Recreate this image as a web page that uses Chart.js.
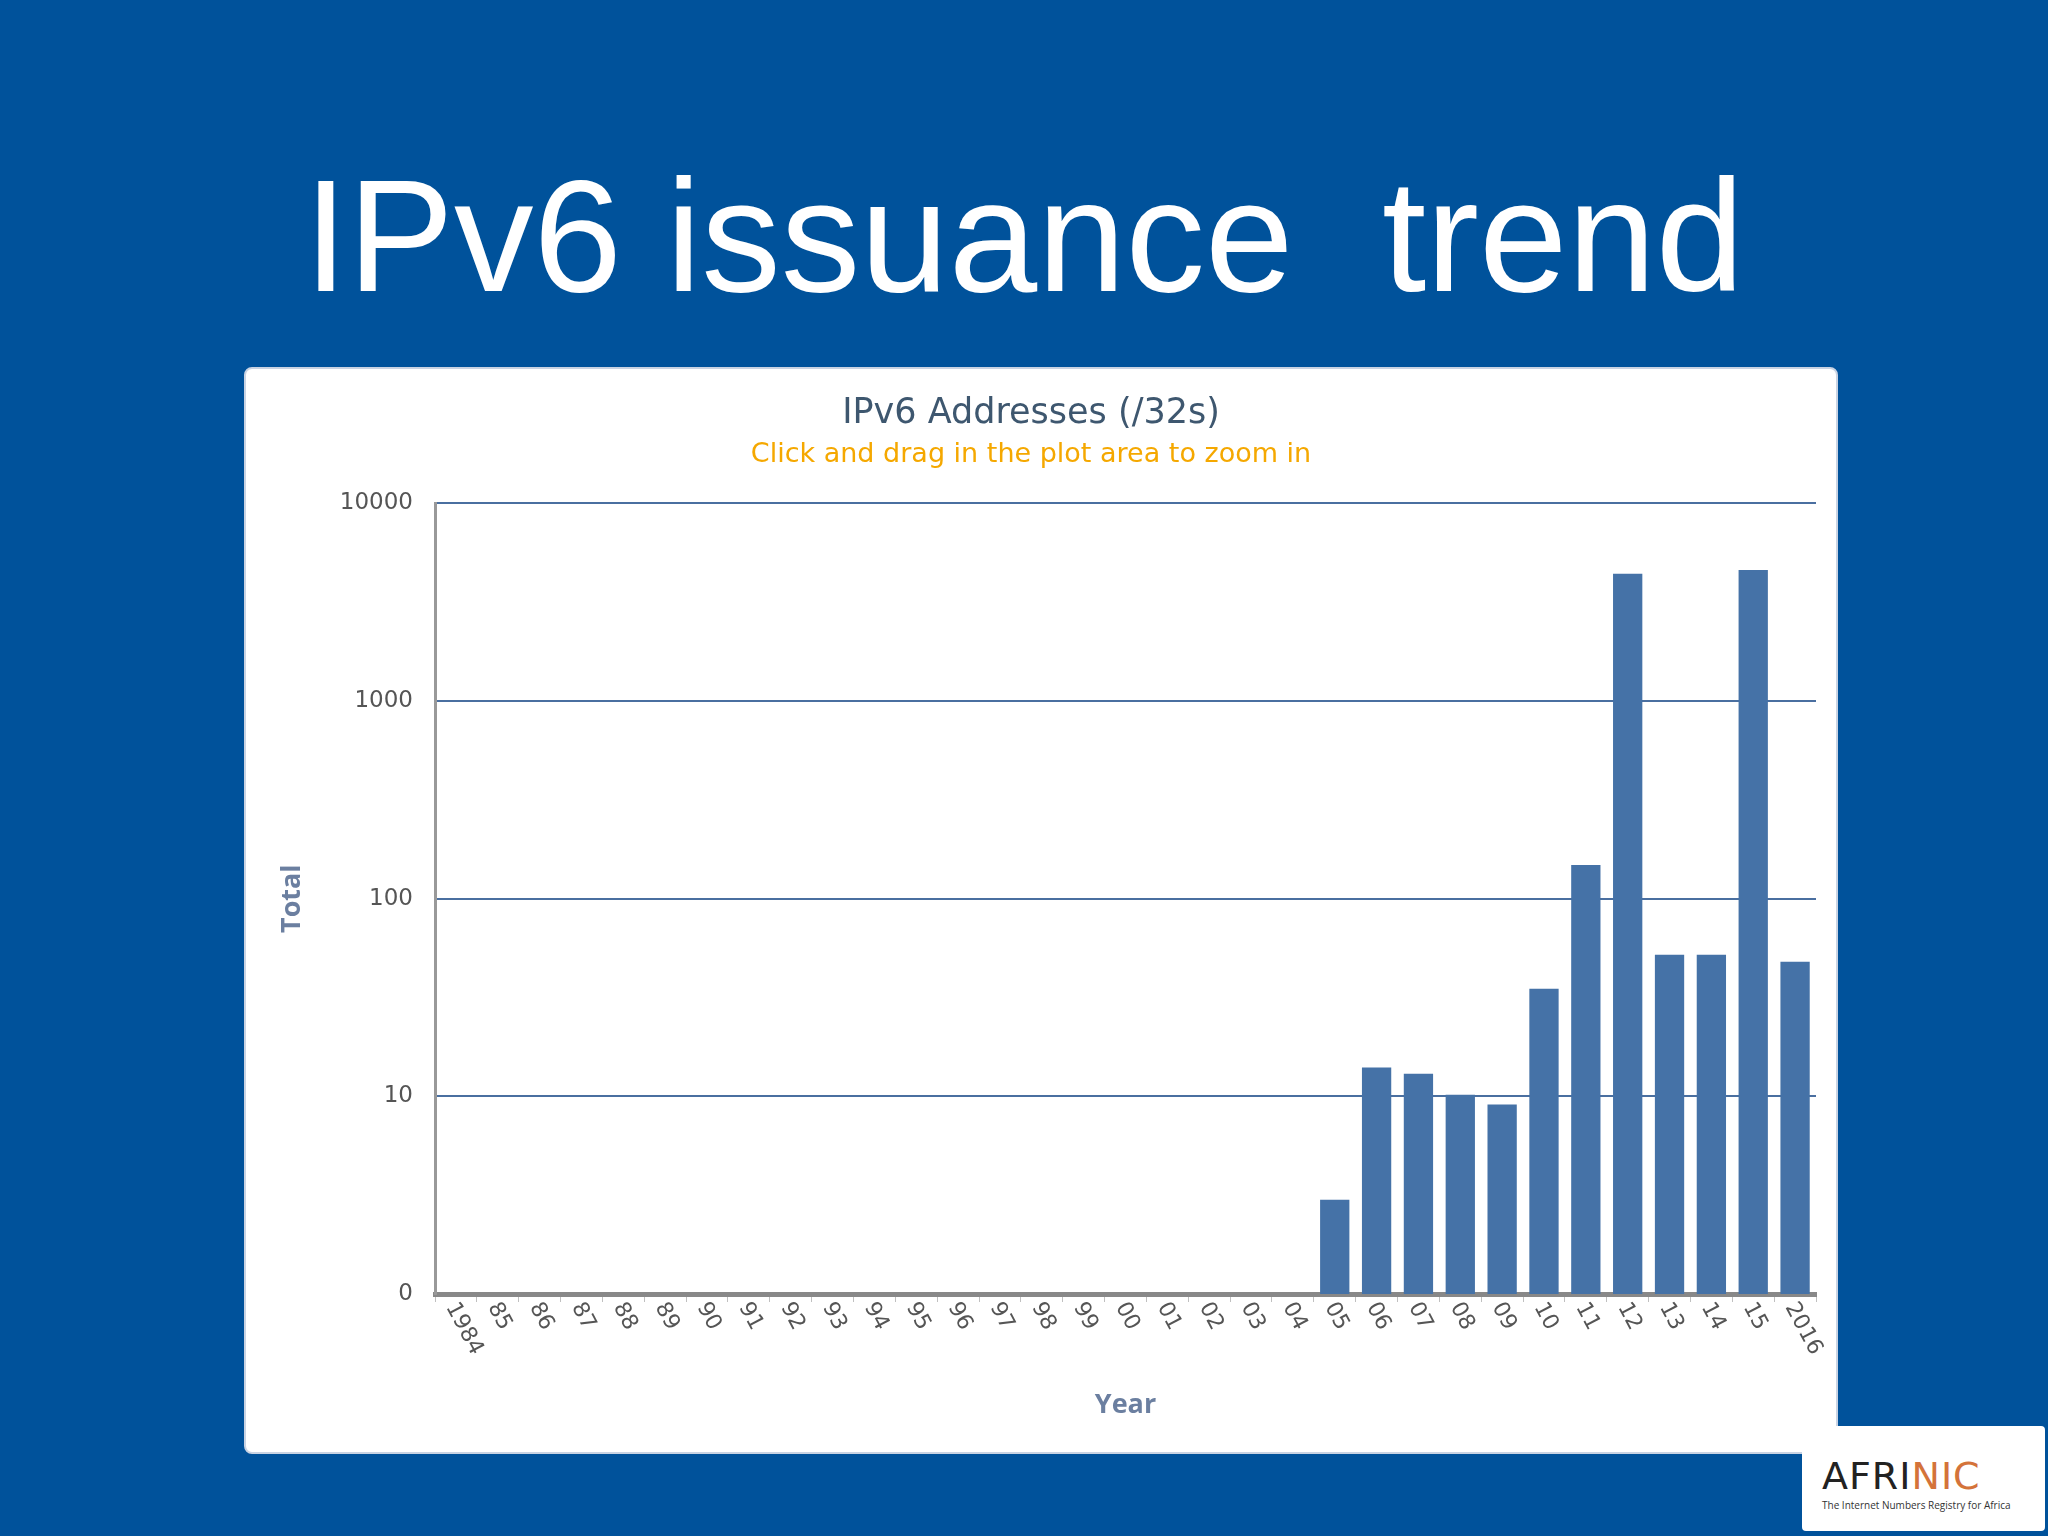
<!DOCTYPE html>
<html>
<head>
<meta charset="utf-8">
<script src="https://cdn.jsdelivr.net/npm/chart.js@4"></script>
<style>
  body { margin: 0; width: 2048px; height: 1536px; background: #00529b; position: relative; overflow: hidden; font-family: "Liberation Sans", Arial, sans-serif; }
  h1 { position: absolute; left: 0; width: 2048px; top: 146px; margin: 0; text-align: center; color: #fff; font-weight: normal; font-size: 159px; line-height: 180px; white-space: pre; }
  #card { position: absolute; left: 244px; top: 367px; width: 1594px; height: 1087px; background: #fff; border-radius: 8px; border: 2px solid #c9d3e3; box-sizing: border-box; }
  #logo { position: absolute; left: 1802px; top: 1426px; width: 243px; height: 105px; background: #fff; border-radius: 4px; }
  #logo .name { position: absolute; left: 20px; top: 28px; font: 38px "DejaVu Sans", sans-serif; letter-spacing: 1px; color: #222; }
  #logo .name span { color: #d4733a; }
  #logo .sub { position: absolute; left: 20px; top: 72px; font: 10px "Open Sans", sans-serif; color: #333; }
</style>
</head>
<body>
<h1>IPv6 issuance  trend</h1>
<div id="card"><canvas id="ipv6Canvas" width="1590" height="1083"></canvas></div>
<div id="logo"><div class="name">AFRI<span>NIC</span></div><div class="sub">The Internet Numbers Registry for Africa</div></div>
<script>
var years = ['1984','85','86','87','88','89','90','91','92','93','94','95','96','97','98','99',
             '00','01','02','03','04','05','06','07','08','09','10','11','12','13','14','15','2016'];
var totals = [null,null,null,null,null,null,null,null,null,null,null,null,null,null,null,null,
              null,null,null,null,null,3,14,13,10.2,9.1,35,148,4400,52,52,4600,48];
var yTicks = [1, 10, 100, 1000, 10000];
var yTickLabels = ['0', '10', '100', '1000', '10000'];

// Year labels run downward (clockwise), which Chart.js can't align, so draw them here
var yearLabels = {
    id: 'yearLabels',
    afterDraw: function (chart) {
        var x = chart.scales.x;
        var c = chart.ctx;
        c.save();
        c.fillStyle = '#555';
        c.font = '22px "DejaVu Sans"';
        c.textAlign = 'left';
        c.textBaseline = 'middle';
        x.ticks.forEach(function (t, i) {
            c.save();
            c.translate(x.getPixelForTick(i) - 5, x.top + 10);
            c.rotate(62 * Math.PI / 180);
            c.fillText(years[i], 0, 0);
            c.restore();
        });
        c.restore();
    }
};

var ctx = document.getElementById('ipv6Canvas').getContext('2d');
new Chart(ctx, {
    type: 'bar',
    data: {
        labels: years,
        datasets: [{
            label: 'Total',
            data: totals,
            backgroundColor: '#4572a7',
            categoryPercentage: 1,
            barPercentage: 0.7
        }]
    },
    plugins: [yearLabels],
    options: {
        responsive: false,
        animation: false,
        layout: { padding: { left: 0, right: 20, top: 0, bottom: 0 } },
        plugins: {
            legend: { display: false },
            tooltip: { enabled: false },
            title: {
                display: true,
                text: 'IPv6 Addresses (/32s)',
                color: '#3e576f',
                font: { family: 'DejaVu Sans', size: 35, weight: 'normal' },
                padding: { top: 24, bottom: 4 }
            },
            subtitle: {
                display: true,
                text: 'Click and drag in the plot area to zoom in',
                color: '#f5a800',
                font: { family: 'DejaVu Sans', size: 27 },
                padding: { bottom: 32 }
            }
        },
        scales: {
            x: {
                grid: { display: true, drawOnChartArea: false, drawTicks: true, tickLength: 8, color: '#c0c0c0', offset: true },
                border: { display: true, color: '#888', width: 5 },
                ticks: { display: false, autoSkip: false },
                title: { display: true, text: 'Year', color: '#6b7fa0', font: { family: 'Open Sans', size: 27, weight: 'bold' }, padding: { top: 0, bottom: 30 } },
                afterFit: function (scale) { scale.height = 158; }
            },
            y: {
                type: 'logarithmic',
                min: 1,
                max: 10000,
                grid: { color: '#4a6fa0', lineWidth: 2, drawTicks: false },
                border: { display: true, color: '#999', width: 3 },
                afterBuildTicks: function (scale) { scale.ticks = yTicks.map(function (v) { return { value: v }; }); },
                ticks: {
                    color: '#555',
                    padding: 22,
                    font: { family: 'DejaVu Sans', size: 23 },
                    callback: function (value) { var i = yTicks.indexOf(value); return i >= 0 ? yTickLabels[i] : ''; }
                },
                title: { display: true, text: 'Total', color: '#6b7fa0', font: { family: 'Open Sans', size: 27, weight: 'bold' }, padding: { top: 30, bottom: 25 } },
                afterFit: function (scale) { scale.width = 189; }
            }
        }
    }
});
</script>
</body>
</html>
